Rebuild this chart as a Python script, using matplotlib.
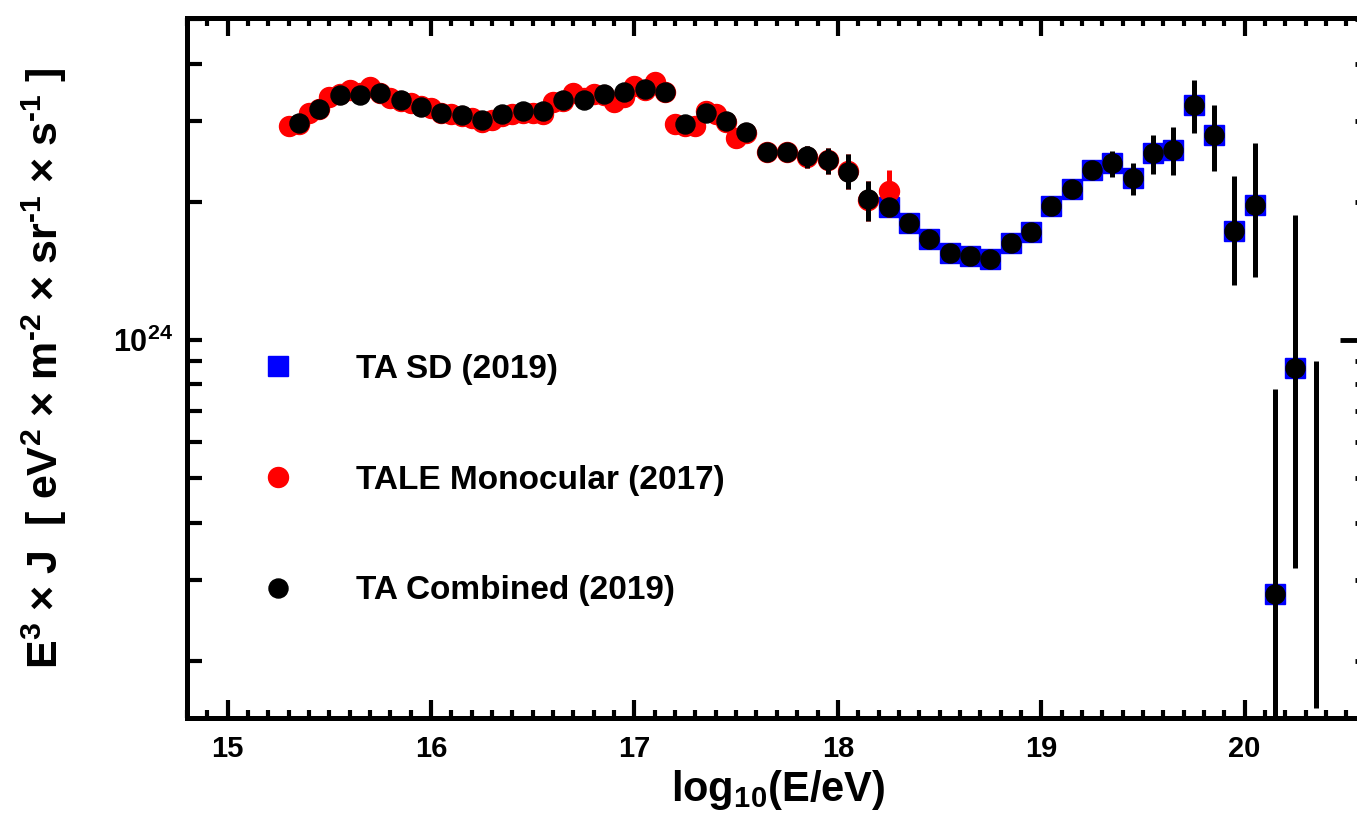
import matplotlib
matplotlib.use("Agg")
import matplotlib.pyplot as plt
from matplotlib.ticker import MultipleLocator, FixedLocator, NullFormatter, FixedFormatter

# TA Combined (2019), log10(E/eV) and E^3 J in units of 1e24
comb_x = [15.35, 15.45, 15.55, 15.65, 15.75, 15.85, 15.95, 16.05, 16.15, 16.25,
          16.35, 16.45, 16.55, 16.65, 16.75, 16.85, 16.95, 17.05, 17.15,
          17.25, 17.35, 17.45, 17.55, 17.65, 17.75, 17.85, 17.95, 18.05, 18.15,
          18.25, 18.35, 18.45, 18.55, 18.65, 18.75, 18.85, 18.95, 19.05, 19.15,
          19.25, 19.35, 19.45, 19.55, 19.65, 19.75, 19.85, 19.95, 20.05, 20.15, 20.25]
comb_y = [2.97, 3.19, 3.41, 3.41, 3.46, 3.34, 3.22, 3.13, 3.09, 3.02,
          3.11, 3.16, 3.15, 3.34, 3.33, 3.43, 3.47, 3.53, 3.47,
          2.95, 3.12, 3.00, 2.84, 2.57, 2.57, 2.52, 2.47, 2.32, 2.03,
          1.95, 1.80, 1.66, 1.55, 1.52, 1.50, 1.63, 1.72, 1.96, 2.13,
          2.35, 2.43, 2.25, 2.55, 2.60, 3.25, 2.79, 1.73, 1.97, 0.279, 0.87]
# visible error bars of the combined spectrum
comb_err_x = [17.85, 17.95, 18.05, 18.15, 19.35, 19.45, 19.55, 19.65, 19.75,
              19.85, 19.95, 20.05, 20.15, 20.25, 20.35]
comb_err_lo = [2.37, 2.30, 2.13, 1.82, 2.26, 2.07, 2.30, 2.29, 2.83,
               2.33, 1.32, 1.37, 0.05, 0.318, 0.158]
comb_err_hi = [2.65, 2.62, 2.54, 2.22, 2.58, 2.43, 2.79, 2.91, 3.68,
               3.25, 2.28, 2.68, 0.78, 1.87, 0.90]

# TA SD (2019)
sd_x = [18.25, 18.35, 18.45, 18.55, 18.65, 18.75, 18.85, 18.95, 19.05, 19.15,
        19.25, 19.35, 19.45, 19.55, 19.65, 19.75, 19.85, 19.95, 20.05, 20.15, 20.25]
sd_y = [1.95, 1.80, 1.66, 1.55, 1.52, 1.50, 1.63, 1.72, 1.96, 2.13,
        2.35, 2.43, 2.25, 2.55, 2.60, 3.25, 2.79, 1.73, 1.97, 0.279, 0.87]

# TALE Monocular (2017)
tale_x = [15.30, 15.35, 15.40, 15.45, 15.50, 15.55, 15.60, 15.65, 15.70, 15.75,
          15.80, 15.85, 15.90, 15.95, 16.00, 16.05, 16.10, 16.15, 16.20, 16.25,
          16.30, 16.35, 16.40, 16.45, 16.50, 16.55, 16.60, 16.65, 16.70, 16.75,
          16.80, 16.85, 16.90, 16.95, 17.00, 17.05, 17.10, 17.15, 17.20, 17.25,
          17.30, 17.35, 17.40, 17.45, 17.50, 17.55, 17.65, 17.75, 17.85, 17.95,
          18.05, 18.15, 18.25]
tale_y = [2.92, 2.96, 3.13, 3.18, 3.39, 3.43, 3.51, 3.45, 3.55, 3.46,
          3.37, 3.32, 3.29, 3.23, 3.21, 3.13, 3.11, 3.08, 3.04, 2.99,
          3.01, 3.07, 3.10, 3.13, 3.13, 3.11, 3.30, 3.32, 3.45, 3.36,
          3.43, 3.41, 3.30, 3.39, 3.58, 3.51, 3.64, 3.47, 2.96, 2.93,
          2.92, 3.16, 3.10, 2.99, 2.76, 2.83, 2.57, 2.57, 2.51, 2.47,
          2.33, 2.02, 2.11]
tale_err_x = [17.50, 17.85, 17.95, 18.05, 18.15, 18.25]
tale_err_lo = [2.65, 2.37, 2.30, 2.13, 1.82, 1.85]
tale_err_hi = [2.88, 2.65, 2.62, 2.54, 2.22, 2.35]

scale = 1e24

plt.rcParams.update({
    'font.family': 'Liberation Sans',
    'font.weight': 'bold',
    'mathtext.fontset': 'custom',
    'mathtext.rm': 'Liberation Sans:bold',
    'mathtext.it': 'Liberation Sans:bold',
    'mathtext.bf': 'Liberation Sans:bold',
})

W, H = 1357, 832
fig = plt.figure(figsize=(W / 100, H / 100), dpi=100)
ax = fig.add_axes([187 / W, 1 - 718 / H, (1362 - 187) / W, 700 / H])

ax.plot(sd_x, [v * scale for v in sd_y], linestyle='none', marker='s',
        markersize=15, color='blue', label='TA SD (2019)', zorder=3)
ax.vlines(tale_err_x, [v * scale for v in tale_err_lo], [v * scale for v in tale_err_hi],
          color='red', linewidth=3.6, zorder=4)
ax.plot(tale_x, [v * scale for v in tale_y], linestyle='none', marker='o',
        markersize=14.4, color='red', label='TALE Monocular (2017)', zorder=4)
ax.vlines(comb_err_x, [v * scale for v in comb_err_lo], [v * scale for v in comb_err_hi],
          color='black', linewidth=3.6, zorder=5)
ax.plot(comb_x, [v * scale for v in comb_y], linestyle='none', marker='o',
        markersize=13.7, color='black', label='TA Combined (2019)', zorder=6)

ax.set_yscale('log')
ax.set_xlim(14.8, 20.577)
ax.set_ylim(1.5e23, 5.03e24)

# x ticks
ax.xaxis.set_major_locator(MultipleLocator(1))
ax.xaxis.set_minor_locator(MultipleLocator(0.1))
ax.tick_params(axis='x', which='major', direction='in', length=13, width=3,
               top=True, labelsize=21, pad=12)
ax.tick_params(axis='x', which='minor', direction='in', length=6, width=3, top=True)

# y ticks
ax.yaxis.set_major_locator(FixedLocator([1e24]))
ax.yaxis.set_major_formatter(FixedFormatter([r'$10^{24}$']))
minor_y = [2e23, 3e23, 4e23, 5e23, 6e23, 7e23, 8e23, 9e23, 2e24, 3e24, 4e24, 5e24]
ax.yaxis.set_minor_locator(FixedLocator(minor_y))
ax.yaxis.set_minor_formatter(NullFormatter())
ax.tick_params(axis='y', which='both', direction='in', length=11, width=3,
               labelsize=22, pad=10, right=False)

# right-hand ticks
ax2 = ax.twinx()
ax2.set_yscale('log')
ax2.set_ylim(ax.get_ylim())
ax2.yaxis.set_major_locator(FixedLocator([1e24]))
ax2.yaxis.set_minor_locator(FixedLocator(minor_y))
ax2.yaxis.set_major_formatter(NullFormatter())
ax2.yaxis.set_minor_formatter(NullFormatter())
ax2.tick_params(axis='y', which='major', direction='in', length=16, width=3.5)
ax2.tick_params(axis='y', which='minor', direction='in', length=5, width=3.5)

for a in (ax, ax2):
    for s in a.spines.values():
        s.set_linewidth(3.6)

ax.set_xlabel(r'log$_{10}$(E/eV)', fontsize=30, fontweight='bold')
ax.xaxis.set_label_coords(0.503, -0.072)
ax.set_ylabel('E$^{3}$ \u00d7 J  [ eV$^{2}$ \u00d7 m$^{\u20102}$ \u00d7 sr$^{\u20101}$ \u00d7 s$^{\u20101}$ ]',
              fontsize=31, fontweight='bold')
ax.yaxis.set_label_coords(-0.1, 0.5)

ax.legend(loc='upper left', bbox_to_anchor=(245 / W, 1 - 354 / H),
          bbox_transform=fig.transFigure, frameon=False, numpoints=1,
          borderpad=0, borderaxespad=0, handlelength=2.0, handletextpad=1.33,
          labelspacing=2.39, prop={'weight': 'bold', 'size': 24})

fig.savefig('out.png', dpi=100)
